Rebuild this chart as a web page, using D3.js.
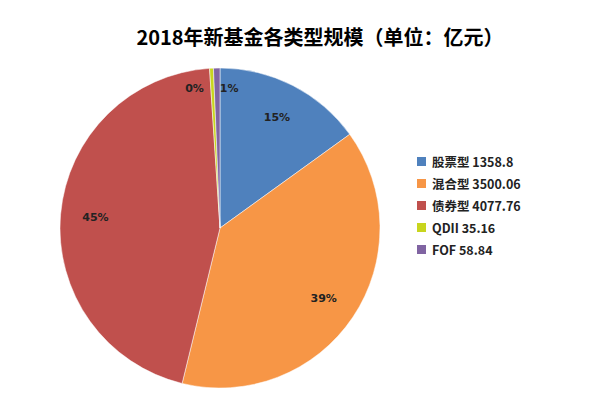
<!DOCTYPE html><html><head><meta charset="utf-8"><script src="https://cdn.jsdelivr.net/npm/d3@7"></script>
<style>body{margin:0;background:#fff}</style></head><body><svg id="c" width="600" height="420"></svg>
<script>
const categories=["股票型","混合型","债券型","QDII","FOF"];
const values=[1358.8,3500.06,4077.76,35.16,58.84];
const pctLabels=["15%","39%","45%","0%","1%"];
const colors=["#4f81bd","#f79646","#c0504d","#c8d51e","#8064a2"];
const svg=d3.select("#c");
const font="'Noto Sans CJK SC','DejaVu Sans',sans-serif";
svg.append("text").attr("x",320).attr("y",45).attr("text-anchor","middle").attr("font-family",font).attr("font-weight","bold").attr("font-size",20).text("2018年新基金各类型规模（单位：亿元）");
const cx=220,cy=228,r=160;
const pie=d3.pie().sort(null)(values);
const arc=d3.arc().innerRadius(0).outerRadius(r);
const g=svg.append("g").attr("transform",`translate(${cx},${cy})`);
g.selectAll("path").data(pie).join("path").attr("d",arc).attr("fill",(d,i)=>colors[i]).attr("stroke","#fff").attr("stroke-width",0.5);
const lab=d3.arc().innerRadius(125).outerRadius(125);
const small=d3.arc().innerRadius(140).outerRadius(140);
g.selectAll("text.l").data(pie).join("text").attr("class","l")
 .attr("transform",(d,i)=>{let p=i<3?lab.centroid(d):small.centroid(d);if(i===3)p[0]-=18;if(i===4)p[0]+=12;return `translate(${p})`;})
 .attr("text-anchor","middle").attr("dy","0.35em").attr("font-family","'DejaVu Sans',sans-serif").attr("font-weight","bold").attr("font-size",11).attr("fill","#222").text((d,i)=>pctLabels[i]);
const lg=svg.append("g").attr("transform","translate(417,157)");
categories.forEach((c,i)=>{
 const row=lg.append("g").attr("transform",`translate(0,${i*22})`);
 row.append("rect").attr("width",9).attr("height",9).attr("fill",colors[i]);
 row.append("text").attr("x",15).attr("y",9.5).attr("font-family",font).attr("font-weight","bold").attr("font-size",12.5).attr("fill","#222").text(c+" "+values[i]);
});
</script></body></html>
